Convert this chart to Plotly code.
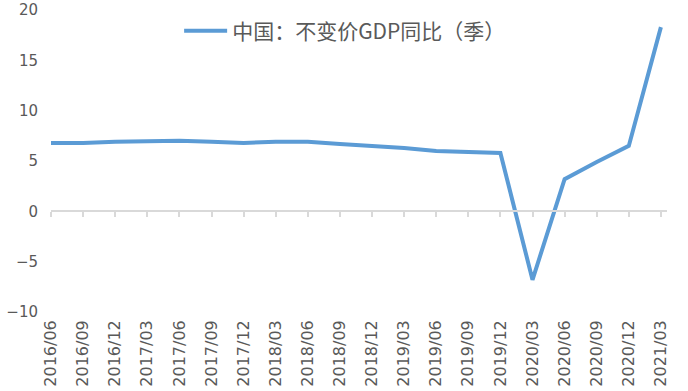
import plotly.graph_objects as go

quarters = ["2016/06", "2016/09", "2016/12", "2017/03", "2017/06", "2017/09", "2017/12",
            "2018/03", "2018/06", "2018/09", "2018/12", "2019/03", "2019/06", "2019/09",
            "2019/12", "2020/03", "2020/06", "2020/09", "2020/12", "2021/03"]
gdp_yoy = [6.8, 6.8, 6.9, 7.0, 7.0, 6.9, 6.8, 6.9, 6.9, 6.7, 6.5, 6.3, 6.0, 5.9,
           5.8, -6.8, 3.2, 4.9, 6.5, 18.3]
series_name = "中国：不变价GDP同比（季）"
y_ticks = [-10, -5, 0, 5, 10, 15, 20]

LINE = "#5b9bd5"
TXT = "#595959"
AX = "#d9d9d9"

fig = go.Figure()
fig.add_trace(go.Scatter(x=quarters, y=gdp_yoy, mode="lines", name=series_name,
                         line=dict(color=LINE, width=4), xaxis="x", yaxis="y"))
# invisible companion trace so the zero-level category axis is drawn
fig.add_trace(go.Scatter(x=quarters, y=gdp_yoy, mode="lines", showlegend=False,
                         line=dict(color="rgba(0,0,0,0)", width=0), hoverinfo="skip",
                         xaxis="x2", yaxis="y"))

xr = [0, 19.19]
fig.update_layout(
    width=688, height=391,
    margin=dict(l=51, r=21, t=10, b=79, autoexpand=False),
    paper_bgcolor="white", plot_bgcolor="white",
    showlegend=True,
    legend=dict(x=0.208, y=0.93, xanchor="left", yanchor="middle",
                font=dict(family="Noto Sans CJK SC", size=21, color=TXT),
                itemwidth=43, bgcolor="rgba(0,0,0,0)"),
    xaxis=dict(type="category", categoryorder="array", categoryarray=quarters,
               range=xr, showline=False, showgrid=False, zeroline=False,
               ticks="", tickangle=-90, ticklabelstandoff=4, automargin=False,
               tickfont=dict(family="DejaVu Sans", size=16, color=TXT)),
    xaxis2=dict(type="category", categoryorder="array", categoryarray=quarters,
                range=xr, overlaying="x", anchor="free", position=1/3, side="bottom",
                showline=True, linecolor=AX, linewidth=2, showgrid=False, zeroline=False,
                ticks="outside", ticklen=5, tickwidth=1.5, tickcolor=AX,
                showticklabels=False, automargin=False),
    yaxis=dict(range=[-10, 20], tickvals=y_ticks, showgrid=False, zeroline=False,
               showline=False, ticks="", ticklabelstandoff=12, automargin=False,
               tickfont=dict(family="DejaVu Sans", size=15, color=TXT)),
)

fig.write_html("out.html")
